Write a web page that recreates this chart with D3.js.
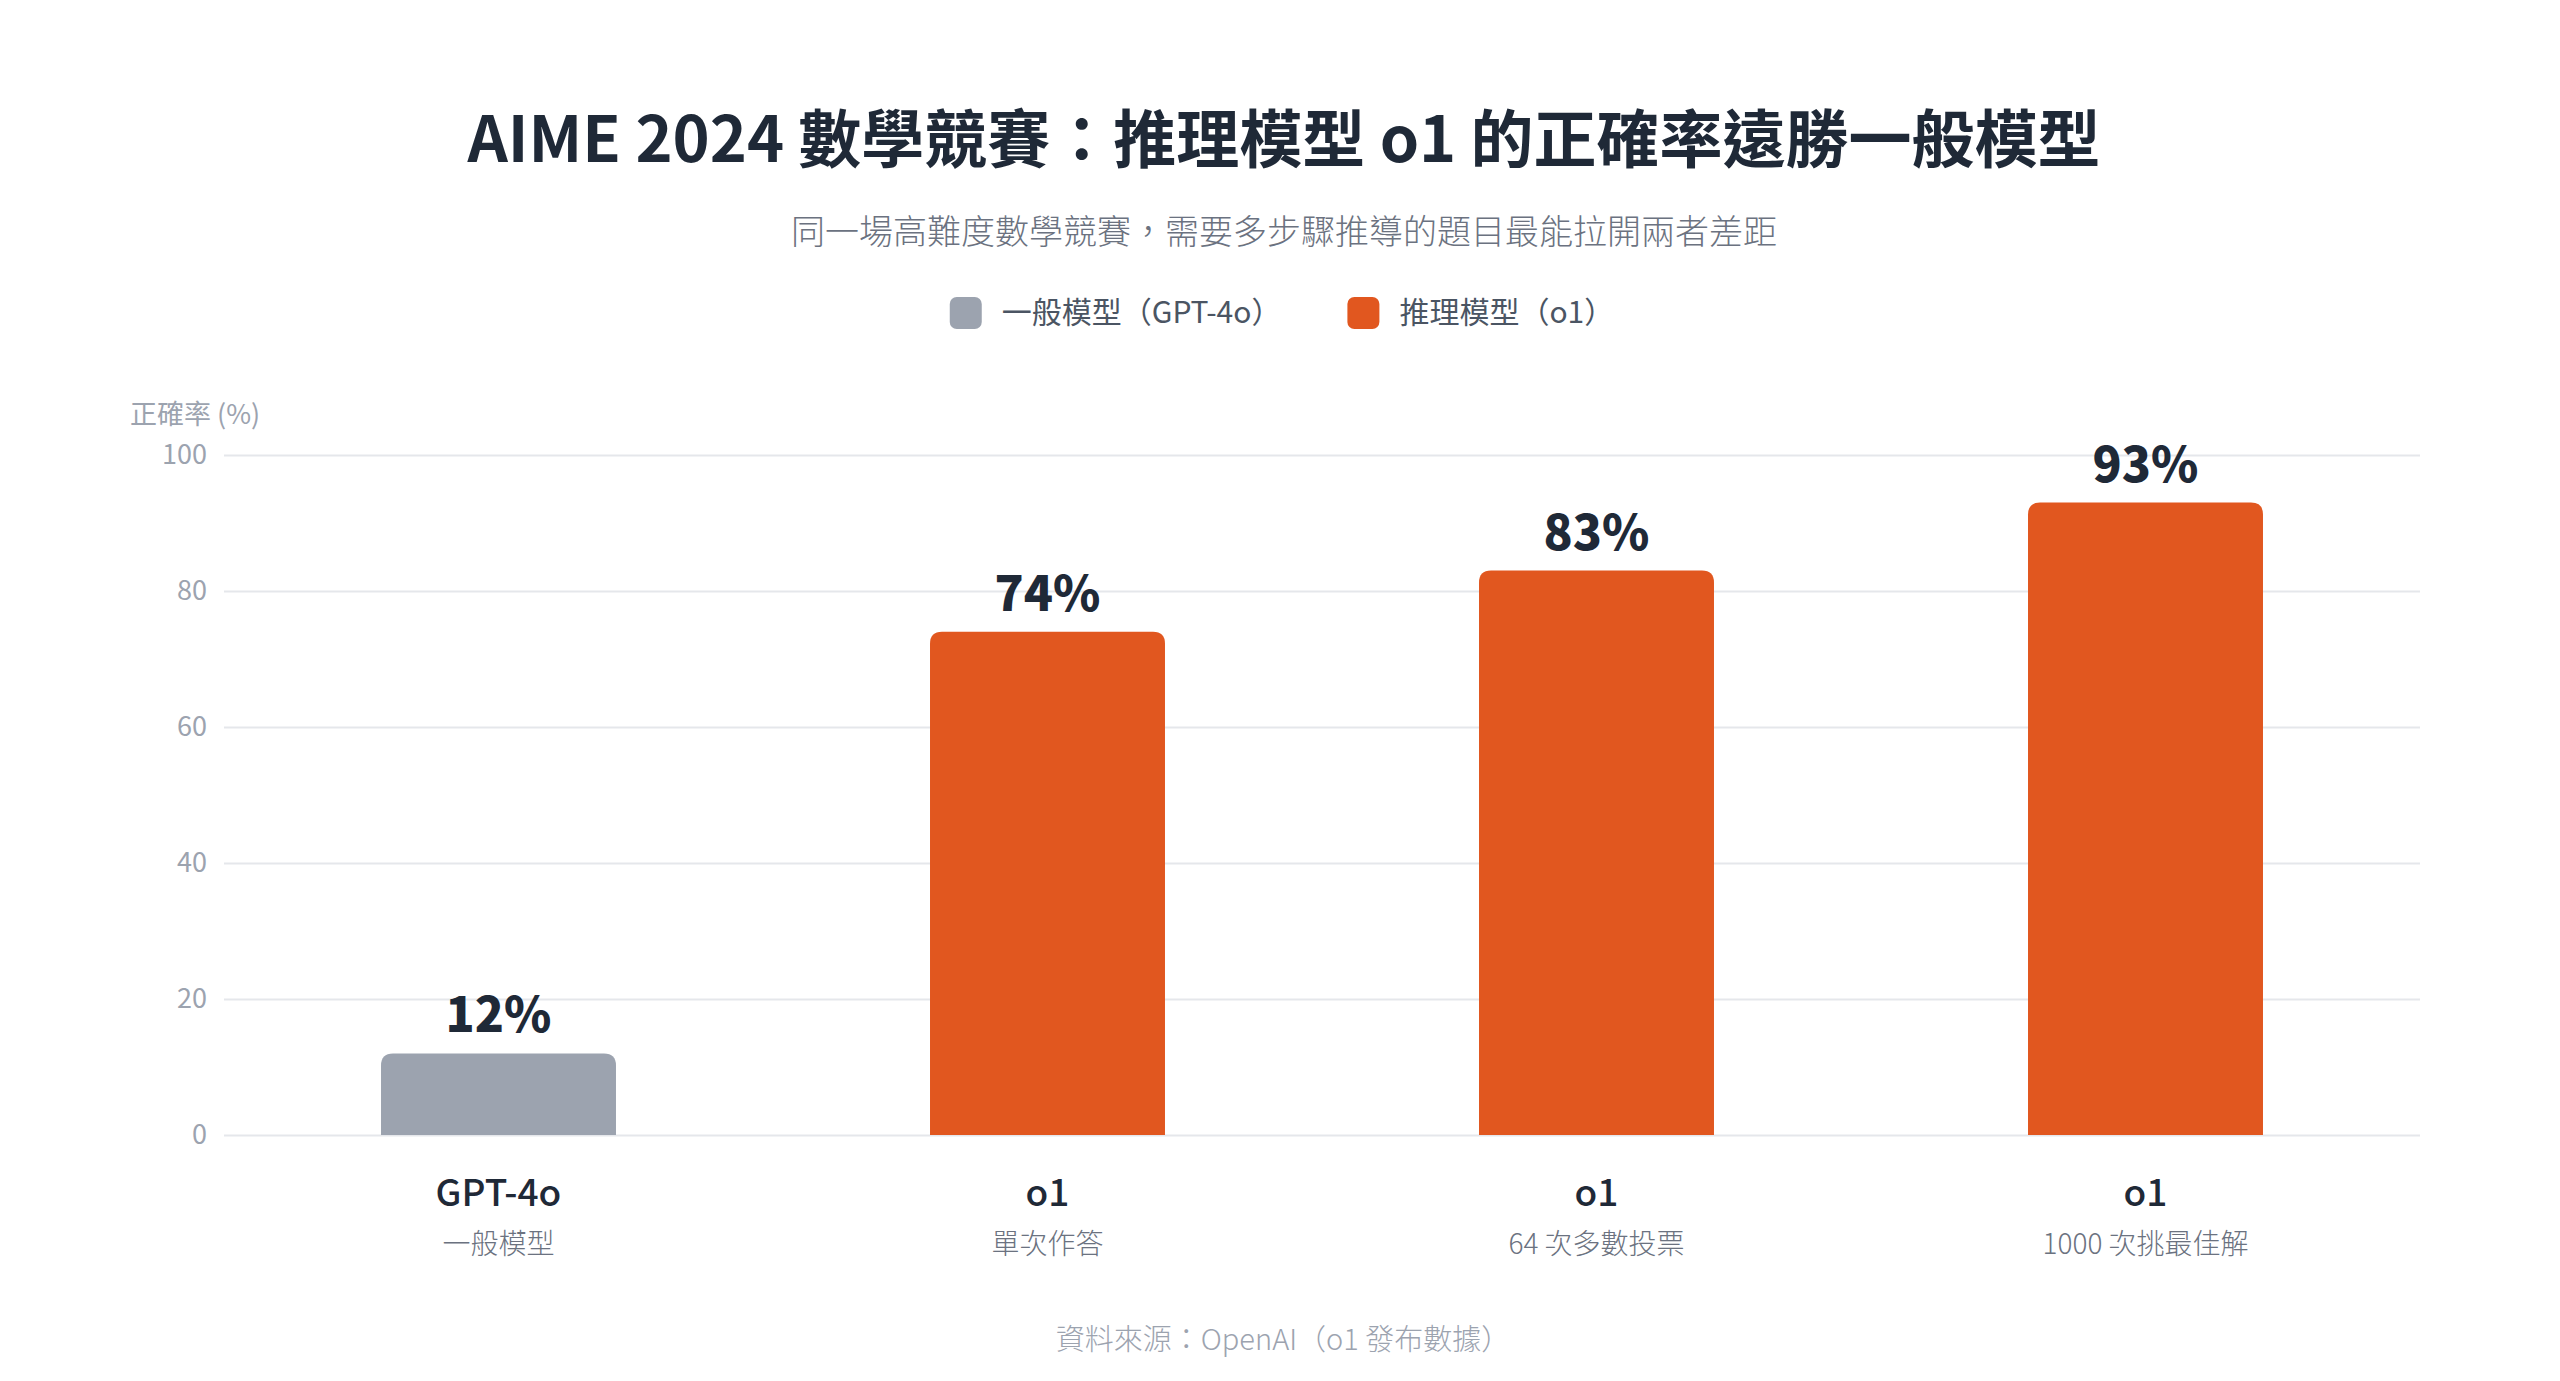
<!DOCTYPE html>
<html lang="zh-Hant-TW">
<head>
<meta charset="utf-8">
<script src="https://cdn.jsdelivr.net/npm/d3@7/dist/d3.min.js"></script>
<style>
  html, body { margin: 0; padding: 0; background: #ffffff; }
  svg { display: block; font-family: "Noto Sans CJK TC", "Noto Sans", sans-serif; }
</style>
</head>
<body>
<svg id="chart" width="2560" height="1381" lang="zh-Hant-TW"></svg>
<script>
// ---- data ----
const categories = ["GPT-4o", "o1", "o1", "o1"];
const subLabels = ["一般模型", "單次作答", "64 次多數投票", "1000 次挑最佳解"];
const seriesKeys = ["general", "reasoning", "reasoning", "reasoning"];
const values = [12, 74, 83, 93];
const yTicks = [0, 20, 40, 60, 80, 100];
const legendLabels = ["一般模型（GPT-4o）", "推理模型（o1）"];
const legendKeys = ["general", "reasoning"];
const titleText = "AIME 2024 數學競賽：推理模型 o1 的正確率遠勝一般模型";
const subtitleText = "同一場高難度數學競賽，需要多步驟推導的題目最能拉開兩者差距";
const yTitleText = "正確率 (%)";
const footerText = "資料來源：OpenAI（o1 發布數據）";

const colors = { general: "#9ca3af", reasoning: "#e1571f" };

const svg = d3.select("#chart");

// plot geometry
const plot = { left: 224, right: 2420, top: 455, bottom: 1135 };

const x = d3.scaleBand()
  .domain(d3.range(values.length))
  .range([plot.left, plot.right])
  .paddingInner(0.572)
  .paddingOuter(0.286);

const y = d3.scaleLinear().domain([0, 100]).range([plot.bottom, plot.top]);

// title
svg.append("text")
  .attr("x", 1284).attr("y", 162)
  .attr("text-anchor", "middle")
  .attr("font-size", 63).attr("font-weight", 700)
  .attr("fill", "#1f2937")
  .text(titleText);

svg.append("text")
  .attr("x", 1284).attr("y", 244)
  .attr("text-anchor", "middle")
  .attr("font-size", 34).attr("font-weight", 300)
  .attr("fill", "#6b7280")
  .text(subtitleText);

// legend
const legend = svg.append("g");
let lx = 0;
legendLabels.forEach((lab, i) => {
  const g = legend.append("g");
  g.append("rect")
    .attr("x", 0).attr("y", 297).attr("width", 32).attr("height", 32)
    .attr("rx", 7).attr("fill", colors[legendKeys[i]]);
  const t = g.append("text")
    .attr("x", 52).attr("y", 323)
    .attr("font-size", 30).attr("font-weight", 400).attr("fill", "#4b5563")
    .text(lab);
  const w = 52 + t.node().getComputedTextLength();
  g.attr("transform", `translate(${lx},0)`);
  lx += w + 66;
});
const legendW = lx - 66;
legend.attr("transform", `translate(${1282 - legendW / 2},0)`);

// y axis + grid
const yAxis = d3.axisLeft(y)
  .tickValues(yTicks)
  .tickSize(-(plot.right - plot.left))
  .tickPadding(17)
  .tickFormat(d3.format("d"));

const gy = svg.append("g")
  .attr("transform", `translate(${plot.left},0)`)
  .call(yAxis);
gy.select(".domain").remove();
gy.selectAll(".tick line").attr("stroke", "#e5e7eb").attr("stroke-width", 2);
gy.selectAll(".tick text")
  .attr("font-size", 27).attr("fill", "#9ca3af").attr("font-weight", 400)
  .attr("font-family", "\"Noto Sans CJK TC\", \"Noto Sans\", sans-serif");

svg.append("text")
  .attr("x", 130).attr("y", 424)
  .attr("font-size", 27).attr("font-weight", 400).attr("fill", "#9ca3af")
  .text(yTitleText);

// bars with rounded top corners
const r = 12;
function barPath(i) {
  const x0 = x(i), x1 = x(i) + x.bandwidth();
  const y0 = y(values[i]), y1 = y(0);
  return `M${x0},${y1}V${y0 + r}Q${x0},${y0} ${x0 + r},${y0}H${x1 - r}Q${x1},${y0} ${x1},${y0 + r}V${y1}Z`;
}
svg.append("g").selectAll("path")
  .data(values)
  .join("path")
  .attr("d", (d, i) => barPath(i))
  .attr("fill", (d, i) => colors[seriesKeys[i]]);

// value labels
svg.append("g").selectAll("text")
  .data(values)
  .join("text")
  .attr("x", (d, i) => x(i) + x.bandwidth() / 2)
  .attr("y", d => y(d) - 21)
  .attr("text-anchor", "middle")
  .attr("font-size", 48).attr("font-weight", 900)
  .attr("fill", "#1f2937")
  .text(d => d + "%");

// x labels
const xl = svg.append("g");
xl.selectAll("text.main")
  .data(categories)
  .join("text")
  .attr("class", "main")
  .attr("x", (d, i) => x(i) + x.bandwidth() / 2)
  .attr("y", 1206)
  .attr("text-anchor", "middle")
  .attr("font-size", 37).attr("font-weight", 500)
  .attr("fill", "#1f2937")
  .text(d => d);
xl.selectAll("text.sub")
  .data(subLabels)
  .join("text")
  .attr("class", "sub")
  .attr("x", (d, i) => x(i) + x.bandwidth() / 2)
  .attr("y", 1254)
  .attr("text-anchor", "middle")
  .attr("font-size", 28).attr("font-weight", 300)
  .attr("fill", "#6b7280")
  .text(d => d);

// footer
svg.append("text")
  .attr("x", 1283).attr("y", 1350)
  .attr("text-anchor", "middle")
  .attr("font-size", 29).attr("font-weight", 300).attr("fill", "#9ca3af")
  .text(footerText);
</script>
</body>
</html>
